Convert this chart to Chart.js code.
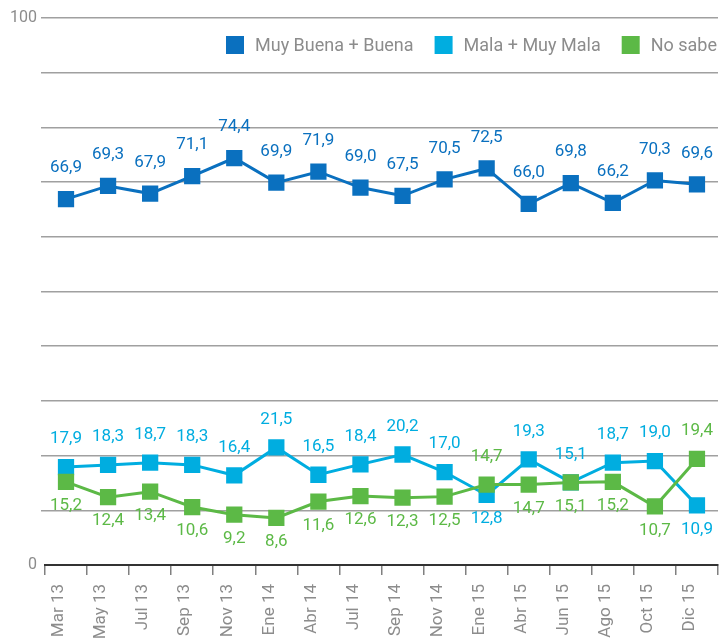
<!DOCTYPE html>
<html>
<head>
<meta charset="utf-8">
<script src="https://cdn.jsdelivr.net/npm/chart.js@4/dist/chart.umd.min.js"></script>
<style>
  html, body { margin: 0; padding: 0; background: #fff; }
  #wrap { width: 720px; height: 639px; position: relative; }
</style>
</head>
<body>
<div id="wrap"><canvas id="opinion"></canvas></div>
<script>
var periods = ['Mar 13', 'May 13', 'Jul 13', 'Sep 13', 'Nov 13', 'Ene 14', 'Abr 14', 'Jul 14',
               'Sep 14', 'Nov 14', 'Ene 15', 'Abr 15', 'Jun 15', 'Ago 15', 'Oct 15', 'Dic 15'];
var buena = [66.9, 69.3, 67.9, 71.1, 74.4, 69.9, 71.9, 69.0, 67.5, 70.5, 72.5, 66.0, 69.8, 66.2, 70.3, 69.6];
var mala = [17.9, 18.3, 18.7, 18.3, 16.4, 21.5, 16.5, 18.4, 20.2, 17.0, 12.8, 19.3, 15.1, 18.7, 19.0, 10.9];
var noSabe = [15.2, 12.4, 13.4, 10.6, 9.2, 8.6, 11.6, 12.6, 12.3, 12.5, 14.7, 14.7, 15.1, 15.2, 10.7, 19.4];
var yTickLabels = [0, 100];

var DARK = '#0a70bf', CYAN = '#00ade0', GREEN = '#5cb946';
var GREY = '#8c8c8c';
var FONT = 'Roboto, "DejaVu Sans", sans-serif';

function fmt(v) { return v.toFixed(1).replace('.', ','); }

// value labels: top series always above; the lower pair swaps when they cross
var valueLabels = {
  id: 'valueLabels',
  afterDatasetsDraw: function (chart) {
    var ctx = chart.ctx;
    ctx.save();
    ctx.font = '17px ' + FONT;
    ctx.textAlign = 'center';
    ctx.textBaseline = 'middle';
    chart.data.datasets.forEach(function (ds, di) {
      var meta = chart.getDatasetMeta(di);
      ctx.fillStyle = ds.borderColor;
      meta.data.forEach(function (pt, i) {
        var v = ds.data[i];
        var dy;
        if (di === 0) {
          dy = -31;
        } else {
          var other = di === 1 ? noSabe[i] : mala[i];
          var upper = di === 1 ? v >= other : v > other;
          dy = upper ? -28 : 24;
        }
        ctx.fillText(fmt(v), pt.x, pt.y + dy);
      });
    });
    ctx.restore();
  }
};

// legend in one row, right aligned inside the plot, under the top gridline
var topLegend = {
  id: 'topLegend',
  afterDraw: function (chart) {
    var ctx = chart.ctx;
    var box = 18, gap = 11, between = 21;
    var top = chart.chartArea.top + 18;
    ctx.save();
    ctx.font = '18px ' + FONT;
    ctx.textBaseline = 'middle';
    ctx.textAlign = 'left';
    var x = chart.chartArea.right - 1;
    var items = chart.data.datasets.slice().reverse();
    items.forEach(function (ds) {
      var w = ctx.measureText(ds.label).width;
      x -= w;
      ctx.fillStyle = GREY;
      ctx.fillText(ds.label, x, top + box / 2 + 1);
      x -= gap + box;
      ctx.fillStyle = ds.borderColor;
      ctx.fillRect(x, top, box, box);
      x -= between;
    });
    ctx.restore();
  }
};

function series(label, data, color, order) {
  return {
    label: label,
    data: data,
    borderColor: color,
    backgroundColor: color,
    borderWidth: 3,
    pointStyle: 'rect',
    pointRadius: 11.5,
    pointHoverRadius: 11.5,
    pointBorderWidth: 0,
    tension: 0,
    order: order
  };
}

var ctx = document.getElementById('opinion').getContext('2d');
var myChart = new Chart(ctx, {
  type: 'line',
  data: {
    labels: periods,
    datasets: [
      series('Muy Buena + Buena', buena, DARK, 2),
      series('Mala + Muy Mala', mala, CYAN, 1),
      series('No sabe', noSabe, GREEN, 0)
    ]
  },
  plugins: [valueLabels, topLegend],
  options: {
    responsive: true,
    maintainAspectRatio: false,
    animation: false,
    layout: { autoPadding: false, padding: { left: 6, right: 2, top: 18, bottom: 0 } },
    plugins: {
      tooltip: { enabled: false },
      legend: { display: false }
    },
    scales: {
      x: {
        offset: true,
        afterFit: function (scale) {
          // rotated labels sit inside the category, no side padding needed
          scale.paddingLeft = 0;
          scale.paddingRight = 0;
          scale.height = 74;
        },
        grid: {
          offset: true,
          drawOnChartArea: false,
          drawTicks: true,
          tickLength: 10,
          color: '#808080',
          lineWidth: 1.5
        },
        border: { display: true, color: '#333', width: 2, dash: [7, 4] },
        ticks: {
          autoSkip: false,
          maxRotation: 90,
          minRotation: 90,
          padding: 9,
          labelOffset: -7,
          color: GREY,
          font: { family: FONT, size: 17 }
        }
      },
      y: {
        min: 0,
        max: 100,
        border: { display: false },
        grid: {
          color: function (c) { return c.tick && c.tick.value === 0 ? 'rgba(0,0,0,0)' : '#a0a0a0'; },
          lineWidth: 1.5,
          tickLength: 4
        },
        ticks: {
          stepSize: 10,
          padding: 4,
          color: GREY,
          font: { family: FONT, size: 16 },
          callback: function (v) { return yTickLabels.indexOf(v) >= 0 ? v : ''; }
        }
      }
    }
  }
});
</script>
</body>
</html>
